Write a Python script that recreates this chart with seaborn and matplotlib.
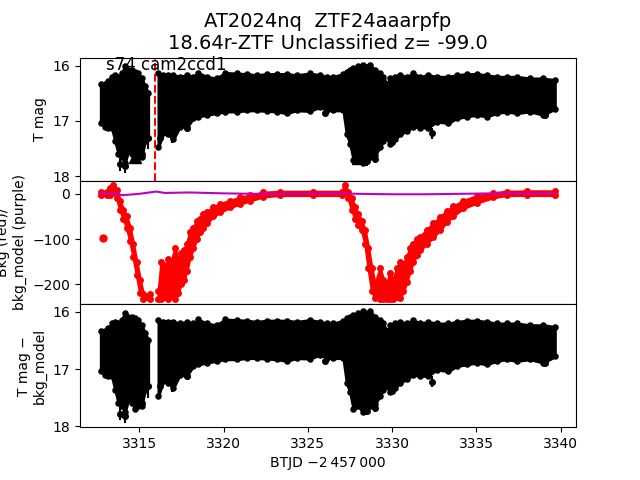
"""
TESS light curve of AT2024nq: magnitude, background and corrected magnitude
"""
import numpy as np
import matplotlib
matplotlib.use("Agg")
import matplotlib.pyplot as plt
import seaborn as sns

# --- light curve envelope (brightest / faintest mag in each time slice) ---
lc_t = [3312.71, 3312.96, 3313.16, 3313.36, 3313.56, 3313.75, 3313.95, 3314.15,
        3314.35, 3314.54, 3314.74, 3314.94, 3315.14, 3315.34, 3315.53,
        3316.13, 3316.42, 3316.72, 3317.02, 3317.41, 3317.81, 3318.20, 3318.50,
        3318.99, 3319.59, 3320.08, 3320.77, 3321.37, 3321.96, 3322.55, 3323.15,
        3323.74, 3324.33, 3325.12, 3325.72, 3326.11, 3326.51, 3327.10, 3327.30,
        3327.50, 3327.70, 3327.99, 3328.29, 3328.69, 3328.98, 3329.28, 3329.48,
        3329.67, 3329.87, 3330.17, 3330.47, 3330.86, 3331.26, 3331.65, 3332.15,
        3332.64, 3333.33, 3333.83, 3334.42, 3335.01, 3335.61, 3336.20, 3336.79,
        3337.39, 3338.18, 3338.97, 3339.66]
lc_bright = [16.34, 16.34, 16.28, 16.20, 16.17, 16.20, 16.14, 16.01,
             16.08, 16.08, 16.11, 16.14, 16.23, 16.37, 16.49,
             16.14, 16.17, 16.17, 16.17, 16.20, 16.17, 16.20, 16.13,
             16.20, 16.23, 16.13, 16.14, 16.15, 16.17, 16.15, 16.15,
             16.15, 16.17, 16.14, 16.17, 16.20, 16.20, 16.15, 16.11,
             16.08, 16.05, 16.01, 15.99, 15.99, 16.08, 16.14, 16.20,
             16.34, 16.23, 16.20, 16.17, 16.20, 16.14, 16.20, 16.17,
             16.20, 16.20, 16.17, 16.15, 16.15, 16.17, 16.20, 16.20,
             16.20, 16.23, 16.23, 16.26]
lc_faint = [17.04, 17.10, 17.12, 17.12, 17.36, 17.59, 17.65, 17.76,
            17.53, 17.59, 17.70, 17.65, 17.65, 17.36, 17.30,
            17.47, 17.21, 17.24, 17.33, 17.10, 17.12, 16.95, 16.92,
            16.89, 16.86, 16.83, 16.83, 16.81, 16.81, 16.82, 16.83,
            16.86, 16.81, 16.82, 16.75, 16.80, 16.81, 16.81, 17.24,
            17.41, 17.70, 17.65, 17.76, 17.65, 17.62, 17.47, 17.36,
            17.30, 17.41, 17.33, 17.24, 17.18, 17.10, 17.12, 17.12,
            17.01, 17.04, 16.95, 16.92, 16.89, 16.92, 16.86, 16.83,
            16.86, 16.83, 16.89, 16.78]

# isolated faint points with their error bars
spike_t = [3313.85, 3314.15, 3314.84, 3315.14, 3315.53, 3316.23, 3316.92, 3317.81,
           3326.02, 3327.80, 3328.49, 3328.98, 3329.97, 3332.34, 3333.33, 3339.07]
spike_mag = [17.78, 17.82, 17.62, 17.60, 17.30, 17.30, 17.25, 17.12,
             16.86, 17.65, 17.73, 17.68, 17.38, 17.22, 17.00, 16.90]
spike_err = [0.12, 0.12, 0.08, 0.08, 0.20, 0.17, 0.15, 0.06,
             0.04, 0.08, 0.08, 0.08, 0.08, 0.10, 0.05, 0.04]

# upper limits (top panel)
ul_t = [3314.74, 3327.99]
ul_mag = [17.65, 17.67]

# --- background flux envelope ---
bkg_t = [3312.71, 3313.06, 3313.26, 3313.46, 3313.66, 3313.85, 3314.05, 3314.25,
         3314.45, 3314.64, 3314.84, 3315.04, 3315.24, 3315.63,
         3316.13, 3316.30, 3316.50, 3316.70, 3316.90, 3317.12, 3317.30, 3317.45,
         3317.65, 3317.81, 3318.00, 3318.20, 3318.40, 3318.60, 3318.80, 3318.99,
         3319.39, 3319.79, 3320.38, 3320.97, 3321.57, 3322.36, 3323.35, 3325.32,
         3327.00, 3327.20, 3327.40, 3327.60, 3327.80, 3327.99, 3328.19, 3328.39,
         3328.59, 3328.79, 3328.98, 3329.28, 3329.48, 3329.67, 3329.87, 3330.07,
         3330.27, 3330.47, 3330.67, 3330.86, 3331.06, 3331.26, 3331.46, 3331.65,
         3332.05, 3332.44, 3332.84, 3333.23, 3333.63, 3334.22, 3335.01, 3336.00,
         3336.79, 3337.98, 3339.66]
bkg_hi = [5, 5, 12, 20, 8, -15, -35, -50,
          -75, -110, -150, -190, -222, -222,
          -215, -150, -160, -145, -150, -120, -150, -130,
          -125, -110, -85, -75, -60, -55, -45, -40,
          -30, -22, -15, -8, -3, 3, 5, 5,
          5, 20, 3, -10, -30, -45, -60, -80,
          -120, -165, -200, -165, -190, -200, -175, -190,
          -165, -150, -155, -140, -120, -110, -100, -95,
          -80, -65, -52, -38, -28, -15, -5, 2,
          5, 6, 6]
bkg_lo = [-3, -3, -2, 5, -10, -35, -55, -75,
          -105, -140, -180, -220, -232, -232,
          -232, -232, -228, -232, -225, -232, -220, -200,
          -190, -170, -140, -120, -100, -85, -75, -65,
          -50, -40, -30, -22, -15, -6, -3, -3,
          -3, 5, -10, -35, -55, -70, -80, -110,
          -165, -215, -230, -232, -232, -232, -232, -232,
          -228, -230, -215, -195, -170, -150, -135, -125,
          -110, -95, -80, -62, -48, -32, -20, -8,
          -3, -3, -3]
bkg_out_t = [3312.86]
bkg_out_v = [-97.5]

# background model
model_t = [3312.7, 3313.5, 3314.0, 3315.0, 3316.0, 3316.5, 3318.0, 3320.0, 3322.0,
           3324.0, 3326.0, 3327.0, 3328.0, 3330.0, 3332.0, 3334.0, 3336.0, 3338.0, 3339.7]
model_v = [1, 1, -3, 0, 5, 2, 3, 1, 0, 0, 1, 1, 0, -1, -1, 0, 1, 1, 1]

GAP = 3315.85
DISC_T = 3315.91


def segments(t):
    t = np.asarray(t)
    return [t < GAP, t > GAP]


def draw_band(ax, t, hi, lo, color, ms):
    t, hi, lo = np.asarray(t), np.asarray(hi), np.asarray(lo)
    for m in segments(t):
        ax.fill_between(t[m], lo[m], hi[m], color=color, lw=2, edgecolor=color)
    sns.scatterplot(x=t, y=hi, ax=ax, color=color, s=ms, edgecolor=color, linewidth=0)
    sns.scatterplot(x=t, y=lo, ax=ax, color=color, s=ms, edgecolor=color, linewidth=0)


fig, (ax1, ax2, ax3) = plt.subplots(3, 1, sharex=True, figsize=(6.4, 4.8), dpi=100)
fig.subplots_adjust(hspace=0)

# top: T mag
draw_band(ax1, lc_t, lc_bright, lc_faint, 'k', 22)
ax1.errorbar(spike_t, spike_mag, yerr=spike_err, fmt='o', color='k', ms=4, lw=1.5)
ax1.plot(ul_t, ul_mag, 'k^', ms=8)
ax1.axvline(DISC_T, color='r', ls='--', lw=1.5)
ax1.text(3313.0, 16.07, 's74 cam2ccd1', fontsize=12)
ax1.set_ylim(18.08, 15.855)
ax1.set_yticks([16, 17, 18])
ax1.set_ylabel('T mag')
ax1.set_title('AT2024nq  ZTF24aaarpfp\n18.64r-ZTF Unclassified z= -99.0', fontsize=14)

# middle: background
draw_band(ax2, bkg_t, bkg_hi, bkg_lo, 'r', 25)
ax2.plot(bkg_out_t, bkg_out_v, 'o', color='r', ms=5)
sns.lineplot(x=model_t, y=model_v, ax=ax2, color='m', lw=1.5)
ax2.set_ylim(-243.6, 28.8)
ax2.set_yticks([0, -100, -200])
ax2.set_ylabel('Bkg (red)/\nbkg_model (purple)')

# bottom: T mag - bkg model
draw_band(ax3, lc_t, lc_bright, lc_faint, 'k', 22)
ax3.errorbar(spike_t, spike_mag, yerr=spike_err, fmt='o', color='k', ms=4, lw=1.5)
ax3.set_ylim(18.02, 15.86)
ax3.set_yticks([16, 17, 18])
ax3.set_ylabel('T mag \u2212\nbkg_model')
ax3.set_xlim(3311.48, 3340.91)
ax3.set_xlabel('BTJD \u22122\u2009457\u2009000')

plt.savefig('out.png', dpi=100)
